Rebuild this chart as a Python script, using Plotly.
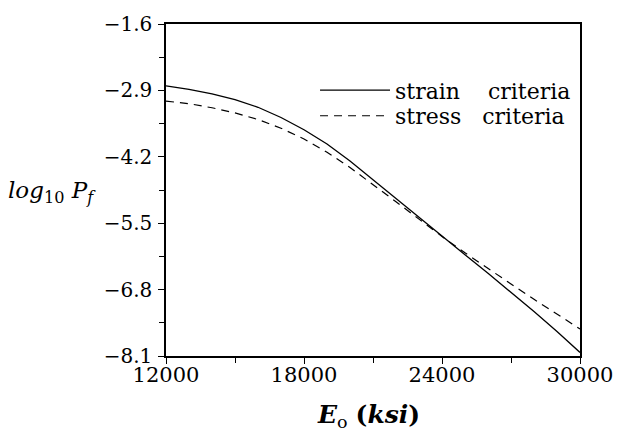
import plotly.graph_objects as go

# Data
e0_ksi = [12000, 13000, 14000, 15000, 16000, 17000, 18000, 19000, 20000, 21000,
          22000, 23000, 24000, 25000, 26000, 27000, 28000, 29000, 30000]
strain_logpf = [-2.81, -2.88, -2.97, -3.08, -3.23, -3.43, -3.67, -3.95, -4.28, -4.65,
                -5.02, -5.39, -5.76, -6.12, -6.48, -6.85, -7.23, -7.62, -8.03]
stress_logpf = [-3.11, -3.16, -3.24, -3.34, -3.47, -3.64, -3.85, -4.11, -4.41, -4.74,
                -5.08, -5.42, -5.76, -6.08, -6.39, -6.69, -6.99, -7.28, -7.57]

x_tickvals = [12000, 18000, 24000, 30000]
x_ticktext = ["12000", "18000", "24000", "30000"]
y_tickvals = [-1.6, -2.9, -4.2, -5.5, -6.8, -8.1]
y_ticktext = ["\u22121.6", "\u22122.9", "\u22124.2", "\u22125.5", "\u22126.8", "\u22128.1"]

SERIF = "DejaVu Serif"
NB = "\u00a0"

fig = go.Figure()
fig.add_trace(go.Scatter(
    x=e0_ksi, y=strain_logpf, mode="lines",
    name="strain" + NB * 4 + "criteria", legend="legend",
    line=dict(color="black", width=1.3),
))
fig.add_trace(go.Scatter(
    x=e0_ksi, y=stress_logpf, mode="lines",
    name="stress" + NB * 3 + "criteria", legend="legend2",
    line=dict(color="black", width=1.2, dash="8px,6px"),
))

axis_common = dict(
    showline=True, linecolor="black", linewidth=1.5, mirror=True,
    showgrid=False, zeroline=False,
    ticks="outside", ticklen=6, tickwidth=1.3, tickcolor="black",
)

fig.update_xaxes(
    range=[12000, 30000],
    tickvals=x_tickvals, ticktext=x_ticktext,
    tickfont=dict(family=SERIF, size=21, color="black"),
    ticklabelstandoff=-7,
    minor=dict(dtick=3000, tick0=12000, ticks="outside", ticklen=5, tickwidth=1.2,
               tickcolor="black", showgrid=False),
    **axis_common,
)
fig.update_yaxes(
    range=[-8.1, -1.6],
    tickvals=y_tickvals, ticktext=y_ticktext,
    tickfont=dict(family=SERIF, size=20, color="black"),
    ticklabelstandoff=2,
    minor=dict(dtick=0.65, tick0=-1.6, ticks="outside", ticklen=5, tickwidth=1.2,
               tickcolor="black", showgrid=False),
    **axis_common,
)

fig.add_annotation(
    text="<i>log</i><sub>10</sub> <i>P</i><sub><i>f</i></sub>",
    xref="paper", yref="paper", x=-0.275, y=0.495,
    xanchor="center", yanchor="middle", showarrow=False,
    font=dict(family=SERIF, size=23, color="black"),
)
fig.add_annotation(
    text="<b><i>E</i></b><sub>o</sub> <b>(<i>ksi</i>)</b>",
    xref="paper", yref="paper", x=0.49, y=-0.18,
    xanchor="center", yanchor="middle", showarrow=False,
    font=dict(family=SERIF, size=25, color="black"),
)

legend_common = dict(
    xanchor="left", yanchor="middle",
    bgcolor="rgba(0,0,0,0)", borderwidth=0,
    font=dict(family=SERIF, size=22, color="black"),
    itemwidth=70,
)

fig.update_layout(
    width=625, height=434,
    margin=dict(l=166, r=35, t=16, b=78),
    paper_bgcolor="white", plot_bgcolor="white",
    showlegend=True,
    legend=dict(x=0.36, y=0.80, **legend_common),
    legend2=dict(x=0.36, y=0.723, **legend_common),
)

fig.write_html("out.html")
